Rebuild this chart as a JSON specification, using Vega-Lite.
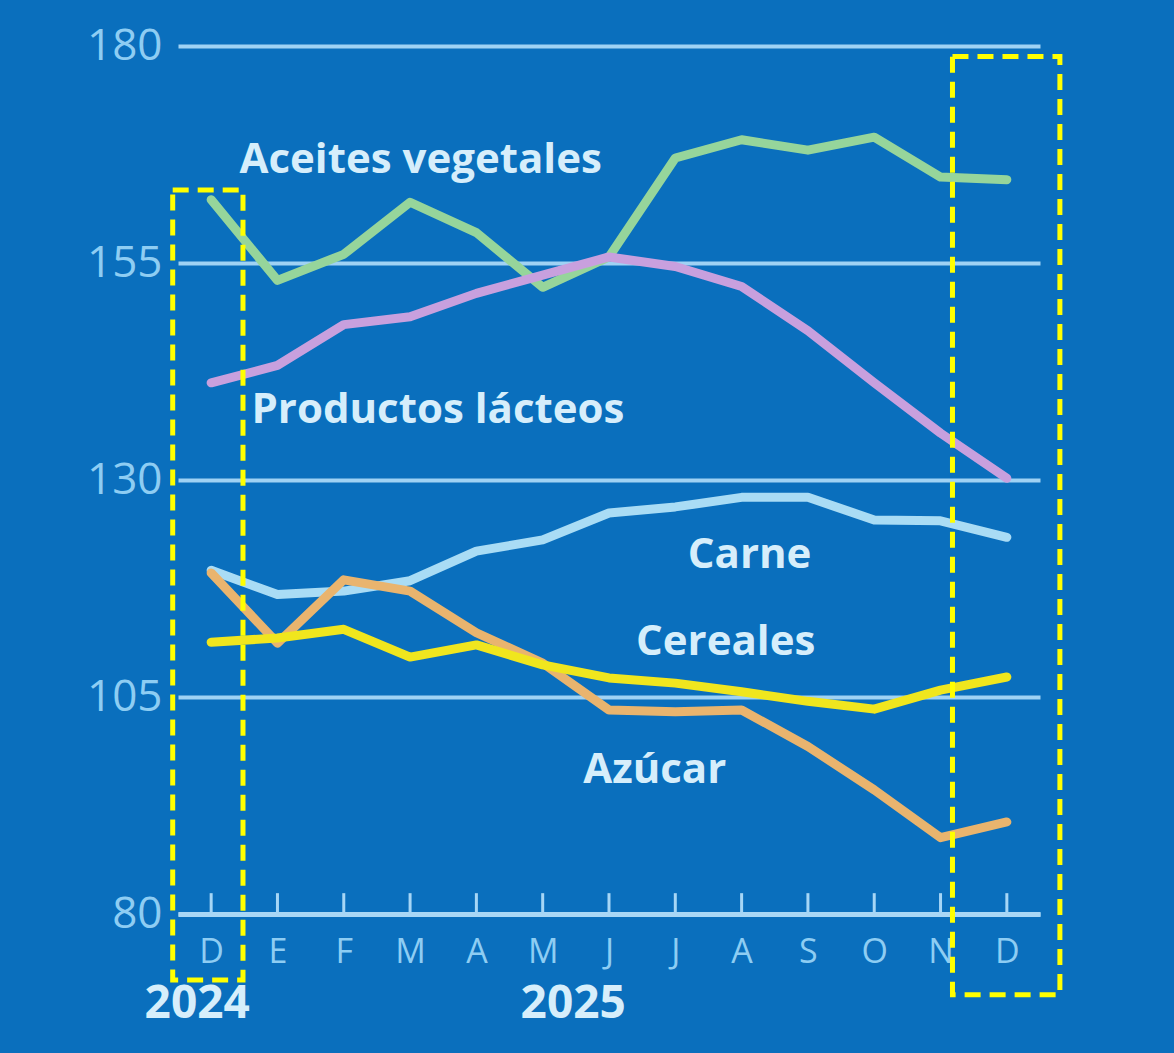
{
  "$schema": "https://vega.github.io/schema/vega-lite/v6.json",
  "width": 862,
  "height": 868,
  "autosize": {"type": "none"},
  "padding": {"left": 178, "top": 46, "right": 134, "bottom": 139},
  "background": "#0a6fbd",
  "config": {
    "view": {"stroke": null},
    "font": "Open Sans"
  },
  "datasets": {
    "series": [
      {"serie": "Aceites vegetales", "i": 0, "mes": "D", "valor": 162.3},
      {"serie": "Aceites vegetales", "i": 1, "mes": "E", "valor": 153.0},
      {"serie": "Aceites vegetales", "i": 2, "mes": "F", "valor": 156.0},
      {"serie": "Aceites vegetales", "i": 3, "mes": "M", "valor": 162.0},
      {"serie": "Aceites vegetales", "i": 4, "mes": "A", "valor": 158.5},
      {"serie": "Aceites vegetales", "i": 5, "mes": "M", "valor": 152.2},
      {"serie": "Aceites vegetales", "i": 6, "mes": "J", "valor": 155.7},
      {"serie": "Aceites vegetales", "i": 7, "mes": "J", "valor": 167.1},
      {"serie": "Aceites vegetales", "i": 8, "mes": "A", "valor": 169.2},
      {"serie": "Aceites vegetales", "i": 9, "mes": "S", "valor": 168.0},
      {"serie": "Aceites vegetales", "i": 10, "mes": "O", "valor": 169.5},
      {"serie": "Aceites vegetales", "i": 11, "mes": "N", "valor": 164.9},
      {"serie": "Aceites vegetales", "i": 12, "mes": "D", "valor": 164.6},
      {"serie": "Productos lácteos", "i": 0, "mes": "D", "valor": 141.2},
      {"serie": "Productos lácteos", "i": 1, "mes": "E", "valor": 143.2},
      {"serie": "Productos lácteos", "i": 2, "mes": "F", "valor": 147.9},
      {"serie": "Productos lácteos", "i": 3, "mes": "M", "valor": 148.8},
      {"serie": "Productos lácteos", "i": 4, "mes": "A", "valor": 151.5},
      {"serie": "Productos lácteos", "i": 5, "mes": "M", "valor": 153.6},
      {"serie": "Productos lácteos", "i": 6, "mes": "J", "valor": 155.7},
      {"serie": "Productos lácteos", "i": 7, "mes": "J", "valor": 154.6},
      {"serie": "Productos lácteos", "i": 8, "mes": "A", "valor": 152.3},
      {"serie": "Productos lácteos", "i": 9, "mes": "S", "valor": 147.2},
      {"serie": "Productos lácteos", "i": 10, "mes": "O", "valor": 141.2},
      {"serie": "Productos lácteos", "i": 11, "mes": "N", "valor": 135.4},
      {"serie": "Productos lácteos", "i": 12, "mes": "D", "valor": 130.2},
      {"serie": "Carne", "i": 0, "mes": "D", "valor": 119.6},
      {"serie": "Carne", "i": 1, "mes": "E", "valor": 116.8},
      {"serie": "Carne", "i": 2, "mes": "F", "valor": 117.2},
      {"serie": "Carne", "i": 3, "mes": "M", "valor": 118.4},
      {"serie": "Carne", "i": 4, "mes": "A", "valor": 121.8},
      {"serie": "Carne", "i": 5, "mes": "M", "valor": 123.1},
      {"serie": "Carne", "i": 6, "mes": "J", "valor": 126.2},
      {"serie": "Carne", "i": 7, "mes": "J", "valor": 126.9},
      {"serie": "Carne", "i": 8, "mes": "A", "valor": 128.0},
      {"serie": "Carne", "i": 9, "mes": "S", "valor": 128.0},
      {"serie": "Carne", "i": 10, "mes": "O", "valor": 125.4},
      {"serie": "Carne", "i": 11, "mes": "N", "valor": 125.3},
      {"serie": "Carne", "i": 12, "mes": "D", "valor": 123.4},
      {"serie": "Azúcar", "i": 0, "mes": "D", "valor": 119.3},
      {"serie": "Azúcar", "i": 1, "mes": "E", "valor": 111.2},
      {"serie": "Azúcar", "i": 2, "mes": "F", "valor": 118.5},
      {"serie": "Azúcar", "i": 3, "mes": "M", "valor": 117.2},
      {"serie": "Azúcar", "i": 4, "mes": "A", "valor": 112.4},
      {"serie": "Azúcar", "i": 5, "mes": "M", "valor": 108.9},
      {"serie": "Azúcar", "i": 6, "mes": "J", "valor": 103.5},
      {"serie": "Azúcar", "i": 7, "mes": "J", "valor": 103.3},
      {"serie": "Azúcar", "i": 8, "mes": "A", "valor": 103.5},
      {"serie": "Azúcar", "i": 9, "mes": "S", "valor": 99.3},
      {"serie": "Azúcar", "i": 10, "mes": "O", "valor": 94.3},
      {"serie": "Azúcar", "i": 11, "mes": "N", "valor": 88.8},
      {"serie": "Azúcar", "i": 12, "mes": "D", "valor": 90.6},
      {"serie": "Cereales", "i": 0, "mes": "D", "valor": 111.3},
      {"serie": "Cereales", "i": 1, "mes": "E", "valor": 111.8},
      {"serie": "Cereales", "i": 2, "mes": "F", "valor": 112.8},
      {"serie": "Cereales", "i": 3, "mes": "M", "valor": 109.6},
      {"serie": "Cereales", "i": 4, "mes": "A", "valor": 111.0},
      {"serie": "Cereales", "i": 5, "mes": "M", "valor": 108.7},
      {"serie": "Cereales", "i": 6, "mes": "J", "valor": 107.2},
      {"serie": "Cereales", "i": 7, "mes": "J", "valor": 106.6},
      {"serie": "Cereales", "i": 8, "mes": "A", "valor": 105.6},
      {"serie": "Cereales", "i": 9, "mes": "S", "valor": 104.5},
      {"serie": "Cereales", "i": 10, "mes": "O", "valor": 103.6},
      {"serie": "Cereales", "i": 11, "mes": "N", "valor": 105.8},
      {"serie": "Cereales", "i": 12, "mes": "D", "valor": 107.3}
    ],
    "etiquetas": [
      {"texto": "Aceites vegetales", "i": 3.16, "valor": 166.9},
      {"texto": "Productos lácteos", "i": 3.42, "valor": 138.1},
      {"texto": "Carne", "i": 8.12, "valor": 121.4},
      {"texto": "Cereales", "i": 7.76, "valor": 111.3},
      {"texto": "Azúcar", "i": 6.69, "valor": 96.6}
    ],
    "anios": [
      {"texto": "2024", "i": -0.21, "valor": 69.6},
      {"texto": "2025", "i": 5.46, "valor": 69.6}
    ],
    "meses": [
      {"i": 0}, {"i": 1}, {"i": 2}, {"i": 3}, {"i": 4}, {"i": 5}, {"i": 6},
      {"i": 7}, {"i": 8}, {"i": 9}, {"i": 10}, {"i": 11}, {"i": 12}
    ],
    "recuadros": [
      {"x0": -0.58, "x1": 0.48, "y0": 72.4, "y1": 163.4},
      {"x0": 11.18, "x1": 12.8, "y0": 70.7, "y1": 178.8}
    ]
  },
  "layer": [
    {
      "data": {"name": "meses"},
      "mark": {"type": "rule", "color": "#a6d6f6", "strokeWidth": 3},
      "encoding": {
        "x": {
          "field": "i", "type": "quantitative",
          "scale": {"domain": [-0.5, 12.5], "nice": false, "zero": false},
          "axis": {
            "values": [0, 1, 2, 3, 4, 5, 6, 7, 8, 9, 10, 11, 12],
            "labelExpr": "['D','E','F','M','A','M','J','J','A','S','O','N','D'][datum.value]",
            "title": null,
            "grid": false,
            "ticks": false,
            "domain": true,
            "domainColor": "#a9d7f6",
            "domainWidth": 5,
            "labelColor": "#8ecdf3",
            "labelFontSize": 34,
            "labelPadding": 21,
            "labelFont": "Open Sans"
          }
        },
        "y": {"datum": 80, "type": "quantitative"},
        "y2": {"datum": 82.4}
      }
    },
    {
      "data": {"name": "series"},
      "mark": {"type": "line", "strokeWidth": 9, "strokeCap": "round", "strokeJoin": "round"},
      "encoding": {
        "x": {"field": "i", "type": "quantitative"},
        "y": {
          "field": "valor", "type": "quantitative",
          "scale": {"domain": [80, 180], "nice": false, "zero": false},
          "axis": {
            "values": [80, 105, 130, 155, 180],
            "title": null,
            "domain": false,
            "ticks": false,
            "grid": true,
            "gridColor": "#9fd2f4",
            "gridWidth": 4,
            "labelColor": "#8ecdf3",
            "labelFontSize": 44,
            "labelPadding": 16,
            "labelFont": "Open Sans"
          }
        },
        "color": {
          "field": "serie", "type": "nominal",
          "scale": {
            "domain": ["Aceites vegetales", "Productos lácteos", "Carne", "Azúcar", "Cereales"],
            "range": ["#96d59b", "#c8a0de", "#a9dcf5", "#e9b46e", "#f0e61e"]
          },
          "legend": null
        },
        "order": {"field": "i"},
        "detail": {"field": "serie"}
      }
    },
    {
      "data": {"name": "etiquetas"},
      "mark": {"type": "text", "fontSize": 42, "fontWeight": "bold", "color": "#d6eefb", "align": "center", "baseline": "middle", "font": "Open Sans"},
      "encoding": {
        "x": {"field": "i", "type": "quantitative"},
        "y": {"field": "valor", "type": "quantitative"},
        "text": {"field": "texto"}
      }
    },
    {
      "data": {"name": "anios"},
      "mark": {"type": "text", "fontSize": 46, "fontWeight": "bold", "color": "#d6eefb", "align": "center", "baseline": "middle", "font": "Open Sans"},
      "encoding": {
        "x": {"field": "i", "type": "quantitative"},
        "y": {"field": "valor", "type": "quantitative"},
        "text": {"field": "texto"}
      }
    },
    {
      "data": {"name": "recuadros"},
      "mark": {"type": "rect", "fill": null, "fillOpacity": 0, "stroke": "#ffff00", "strokeWidth": 5, "strokeDash": [16, 9]},
      "encoding": {
        "x": {"field": "x0", "type": "quantitative"},
        "x2": {"field": "x1"},
        "y": {"field": "y0", "type": "quantitative"},
        "y2": {"field": "y1"}
      }
    }
  ]
}
